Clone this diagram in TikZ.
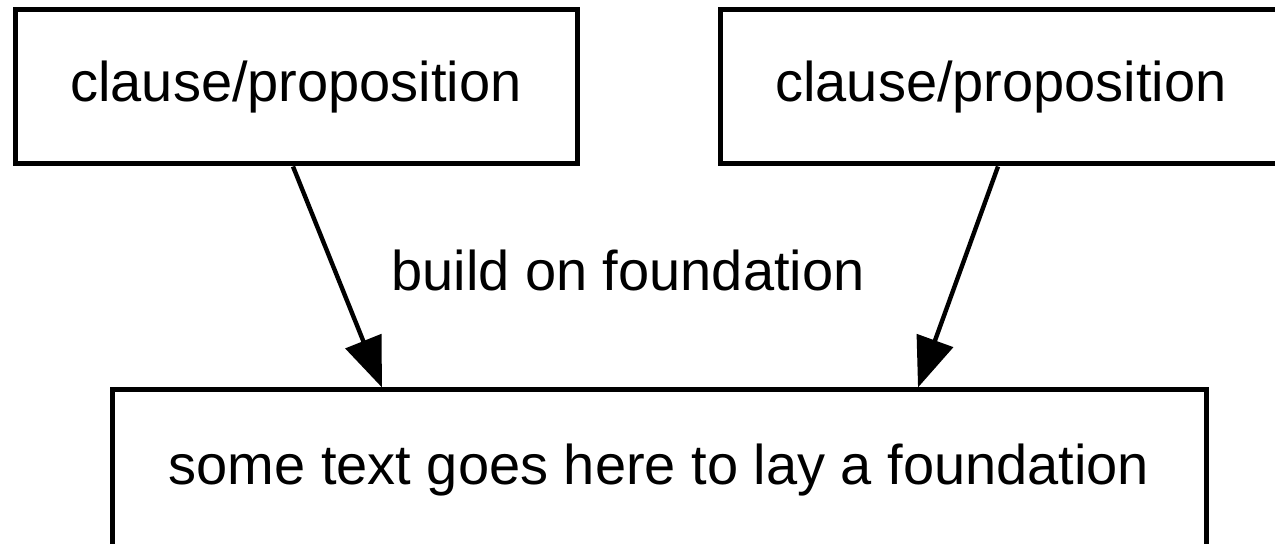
\documentclass[tikz,border=0pt]{standalone}
\usepackage{fontspec}
\setmainfont{Liberation Sans}
\usetikzlibrary{arrows.meta}

\begin{document}
\begin{tikzpicture}[-{Triangle[length=25pt,width=19pt]},line width=2.2pt,
  box node/.style={rectangle,draw,line width=2.5pt,fill=white,minimum height=77pt,
    font=\fontsize{28}{34}\selectfont},
  label node/.style={font=\fontsize{28}{34}\selectfont}]
  \useasboundingbox (0,0) rectangle (637.5pt,-272pt);
  \clip (0,0) rectangle (637.5pt,-272pt);

  \node[box node,minimum width=281pt] (left) at (148pt,-43.5pt) {clause/proposition};
  \node[box node,minimum width=281pt] (right) at (500.5pt,-43.5pt) {clause/proposition};
  \node[box node,minimum width=547pt,minimum height=80pt] (base) at (329.5pt,-235pt) {some text goes here to lay a foundation};
  \node[label node] (build) at (314pt,-135pt) {build on foundation};

  \draw ([xshift=-1.5pt]left.south) -- ([xshift=-138.5pt]base.north);
  \draw ([xshift=-1.5pt]right.south) -- ([xshift=129.5pt]base.north);
\end{tikzpicture}
\end{document}
